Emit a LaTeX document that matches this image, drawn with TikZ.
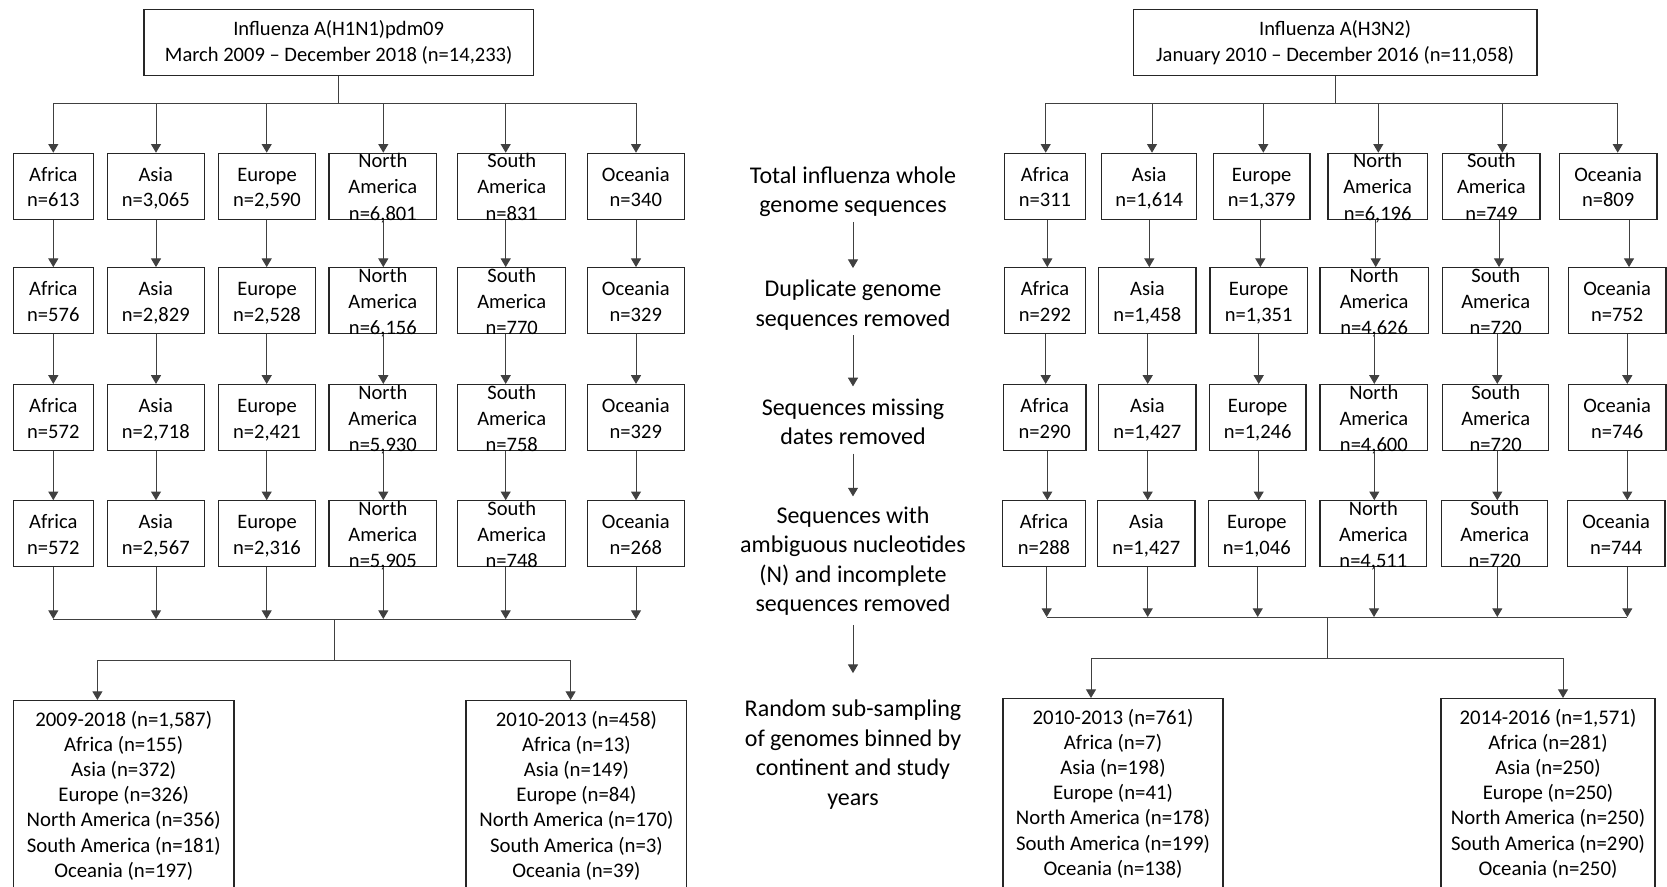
\documentclass[tikz,border=0pt]{standalone}
\usepackage{fontspec}
\setmainfont{Carlito}
\usetikzlibrary{arrows.meta}
\definecolor{boxc}{HTML}{262626}
\definecolor{linec}{HTML}{404040}
\newcommand{\boxtwo}[2]{\smash{\raisebox{3.98pt}{\begin{tabular}[t]{@{}c@{}}#1\\#2\end{tabular}}}}
\newcommand{\boxthree}[3]{\smash{\raisebox{13.73pt}{\begin{tabular}[t]{@{}c@{}}#1\\#2\\#3\end{tabular}}}}
\newcommand{\topstack}[2]{\smash{\raisebox{4.65pt}{\begin{tabular}[t]{@{}c@{}}#1\\#2\end{tabular}}}}
\newcommand{\stk}[1]{\begin{tabular}[t]{@{}c@{}}#1\end{tabular}}
\newcommand{\cb}[5]{\node[cbox, minimum width={(#3-#2)*0.75pt}] (#1) at ({(#2+#3)/2},#4) {#5};}
\tikzset{
  cbox/.style={draw=boxc, line width=0.9pt, minimum height=49.5pt, inner sep=0pt,
    font=\fontsize{15.4}{19.5}\selectfont},
  topbox/.style={draw=boxc, line width=0.9pt, minimum height=49.3pt, inner sep=0pt,
    font=\fontsize{15.6}{20}\selectfont},
  bigbox/.style={draw=boxc, line width=0.9pt, anchor=north, inner sep=0pt},
  btxt/.style={anchor=base, inner sep=0pt, font=\fontsize{15.6}{18.9}\selectfont},
  mid/.style={anchor=base, inner sep=0pt, font=\fontsize{18}{22.1}\selectfont},
  ln/.style={draw=linec, line width=0.75pt},
  arr/.style={draw=linec, line width=0.75pt, -{Triangle[width=7.5pt,length=6.5pt]}},
}
\begin{document}
\begin{tikzpicture}[x=0.75pt,y=-0.75pt]
\useasboundingbox (0,0) rectangle (1667,886);
\clip (0,0) rectangle (1667,886);

% ---------------- left tree: H1N1 ----------------
\cb{LT}{144}{533.3}{42.15}{\topstack{Influenza A(H1N1)pdm09}{March 2009 -- December 2018 (n=14,233)}}

\cb{LA1}{13.3}{93.3}{186.3}{\boxtwo{Africa}{n=613}}
\cb{LB1}{107.3}{204.3}{186.3}{\boxtwo{Asia}{n=3,065}}
\cb{LC1}{218.3}{315.7}{186.3}{\boxtwo{Europe}{n=2,590}}
\cb{LD1}{329}{436.7}{186.3}{\boxthree{North}{America}{n=6,801}}
\cb{LE1}{457.7}{565.7}{186.3}{\boxthree{South}{America}{n=831}}
\cb{LF1}{587.3}{684.3}{186.3}{\boxtwo{Oceania}{n=340}}

\cb{LA2}{13.3}{93.3}{300.7}{\boxtwo{Africa}{n=576}}
\cb{LB2}{107.3}{204.3}{300.7}{\boxtwo{Asia}{n=2,829}}
\cb{LC2}{218.3}{315.7}{300.7}{\boxtwo{Europe}{n=2,528}}
\cb{LD2}{329}{436.7}{300.7}{\boxthree{North}{America}{n=6,156}}
\cb{LE2}{457.7}{565.7}{300.7}{\boxthree{South}{America}{n=770}}
\cb{LF2}{587.3}{684.3}{300.7}{\boxtwo{Oceania}{n=329}}

\cb{LA3}{13.3}{93.3}{417.5}{\boxtwo{Africa}{n=572}}
\cb{LB3}{107.3}{204.3}{417.5}{\boxtwo{Asia}{n=2,718}}
\cb{LC3}{218.3}{315.7}{417.5}{\boxtwo{Europe}{n=2,421}}
\cb{LD3}{329}{436.7}{417.5}{\boxthree{North}{America}{n=5,930}}
\cb{LE3}{457.7}{565.7}{417.5}{\boxthree{South}{America}{n=758}}
\cb{LF3}{587.3}{684.3}{417.5}{\boxtwo{Oceania}{n=329}}

\cb{LA4}{13.3}{93.3}{533.8}{\boxtwo{Africa}{n=572}}
\cb{LB4}{107.3}{204.3}{533.8}{\boxtwo{Asia}{n=2,567}}
\cb{LC4}{218.3}{315.7}{533.8}{\boxtwo{Europe}{n=2,316}}
\cb{LD4}{329}{436.7}{533.8}{\boxthree{North}{America}{n=5,905}}
\cb{LE4}{457.7}{565.7}{533.8}{\boxthree{South}{America}{n=748}}
\cb{LF4}{587.3}{684.3}{533.8}{\boxtwo{Oceania}{n=268}}

\node[bigbox, minimum width={(234-13.4)*0.75pt}, minimum height=165pt] (LS1) at (123.7,700) {};
\node[bigbox, minimum width={(686.8-466)*0.75pt}, minimum height=165pt] (LS2) at (576.4,700) {};
\node[btxt] (LS1t) at ([yshift=-19.5pt]LS1.north) {\stk{2009-2018 (n=1,587)\\Africa (n=155)\\Asia (n=372)\\Europe (n=326)\\North America (n=356)\\South America (n=181)\\Oceania (n=197)}};
\node[btxt] (LS2t) at ([yshift=-19.5pt]LS2.north) {\stk{2010-2013 (n=458)\\Africa (n=13)\\Asia (n=149)\\Europe (n=84)\\North America (n=170)\\South America (n=3)\\Oceania (n=39)}};

\coordinate (LbusL) at (53.3,103.3);
\coordinate (LbusR) at (636,103.3);
\coordinate (LjoinL) at (53.3,619);
\coordinate (LjoinR) at (636,619);
\coordinate (LsplitL) at (97.4,660);
\coordinate (LsplitR) at (570.6,660);
\coordinate (LjoinM) at (334,619);

\draw[ln] (LT.south) -- (LT.south |- LbusL);
\draw[ln] (LbusL) -- (LbusR);
\foreach \c/\x in {A/53.3,B/156,C/266.7,D/383.3,E/505.7,F/636}{
  \draw[arr] (LbusL -| \x,0) -- (L\c1.north -| \x,0);
  \draw[arr] (L\c1.south -| \x,0) -- (L\c2.north -| \x,0);
  \draw[arr] (L\c2.south -| \x,0) -- (L\c3.north -| \x,0);
  \draw[arr] (L\c3.south -| \x,0) -- (L\c4.north -| \x,0);
  \draw[arr] (L\c4.south -| \x,0) -- (LjoinL -| \x,0);
}
\draw[ln] (LjoinL) -- (LjoinR);
\draw[ln] (LjoinM) -- (LjoinM |- LsplitL);
\draw[ln] (LsplitL) -- (LsplitR);
\draw[arr] (LsplitL) -- (LS1.north -| LsplitL);
\draw[arr] (LsplitR) -- (LS2.north -| LsplitR);

% ---------------- middle column ----------------
\node[mid] (M1) at (853,183.3) {\stk{Total influenza whole\\genome sequences}};
\node[mid] (M2) at (853,296.7) {\stk{Duplicate genome\\sequences removed}};
\node[mid] (M3) at (853,415) {\stk{Sequences missing\\dates removed}};
\node[mid] (M4) at (853,523.3) {\stk{Sequences with\\ambiguous nucleotides\\(N) and incomplete\\sequences removed}};
\node[mid] (M5) at (853,716.7) {\stk{Random sub-sampling\\of genomes binned by\\continent and study\\years}};
\draw[arr] (M1.south) -- ([yshift=5.8pt]M2.north);
\draw[arr] (M2.south) -- ([yshift=5.8pt]M3.north);
\draw[arr] (M3.south) -- ([yshift=4.5pt]M4.north);
\draw[arr] ([yshift=-3pt]M4.south) -- ([yshift=17pt]M5.north);

% ---------------- right tree: H3N2 ----------------
\cb{RT}{1133.2}{1537}{42.15}{\topstack{Influenza A(H3N2)}{January 2010 -- December 2016 (n=11,058)}}

\cb{RA1}{1004.7}{1085.3}{186.3}{\boxtwo{Africa}{n=311}}
\cb{RB1}{1101.7}{1196.7}{186.3}{\boxtwo{Asia}{n=1,614}}
\cb{RC1}{1213.3}{1310}{186.3}{\boxtwo{Europe}{n=1,379}}
\cb{RD1}{1328}{1427.3}{186.3}{\boxthree{North}{America}{n=6,196}}
\cb{RE1}{1442.7}{1540}{186.3}{\boxthree{South}{America}{n=749}}
\cb{RF1}{1559.3}{1657}{186.3}{\boxtwo{Oceania}{n=809}}

\cb{RA2}{1004.7}{1085.3}{300.7}{\boxtwo{Africa}{n=292}}
\cb{RB2}{1098.7}{1196}{300.7}{\boxtwo{Asia}{n=1,458}}
\cb{RC2}{1210}{1307.3}{300.7}{\boxtwo{Europe}{n=1,351}}
\cb{RD2}{1320}{1428.3}{300.7}{\boxthree{North}{America}{n=4,626}}
\cb{RE2}{1442.7}{1548.7}{300.7}{\boxthree{South}{America}{n=720}}
\cb{RF2}{1568.3}{1666}{300.7}{\boxtwo{Oceania}{n=752}}

\cb{RA3}{1003.3}{1086}{417.5}{\boxtwo{Africa}{n=290}}
\cb{RB3}{1098.7}{1196}{417.5}{\boxtwo{Asia}{n=1,427}}
\cb{RC3}{1209.3}{1306}{417.5}{\boxtwo{Europe}{n=1,246}}
\cb{RD3}{1320}{1427.7}{417.5}{\boxthree{North}{America}{n=4,600}}
\cb{RE3}{1442.7}{1548.7}{417.5}{\boxthree{South}{America}{n=720}}
\cb{RF3}{1568.3}{1666}{417.5}{\boxtwo{Oceania}{n=746}}

\cb{RA4}{1002.7}{1085.3}{533.8}{\boxtwo{Africa}{n=288}}
\cb{RB4}{1097.7}{1195}{533.8}{\boxtwo{Asia}{n=1,427}}
\cb{RC4}{1208.3}{1305.3}{533.8}{\boxtwo{Europe}{n=1,046}}
\cb{RD4}{1320}{1426.7}{533.8}{\boxthree{North}{America}{n=4,511}}
\cb{RE4}{1441.7}{1547.7}{533.8}{\boxthree{South}{America}{n=720}}
\cb{RF4}{1567.3}{1665}{533.8}{\boxtwo{Oceania}{n=744}}

\node[bigbox, minimum width={(1223-1003)*0.75pt}, minimum height=165pt] (RS1) at (1113,698) {};
\node[bigbox, minimum width={(1655-1441)*0.75pt}, minimum height=165pt] (RS2) at (1548,698) {};
\node[btxt] (RS1t) at ([yshift=-19.5pt]RS1.north) {\stk{2010-2013 (n=761)\\Africa (n=7)\\Asia (n=198)\\Europe (n=41)\\North America (n=178)\\South America (n=199)\\Oceania (n=138)}};
\node[btxt] (RS2t) at ([yshift=-19.5pt]RS2.north) {\stk{2014-2016 (n=1,571)\\Africa (n=281)\\Asia (n=250)\\Europe (n=250)\\North America (n=250)\\South America (n=290)\\Oceania (n=250)}};

\coordinate (RbusL) at (1045.7,103);
\coordinate (RbusR) at (1617.7,103);
\coordinate (RjoinL) at (1046.7,617);
\coordinate (RjoinR) at (1627.3,617);
\coordinate (RjoinM) at (1327,617);
\coordinate (RsplitL) at (1091,658);
\coordinate (RsplitR) at (1563,658);

\draw[ln] (RT.south) -- (RT.south |- RbusL);
\draw[ln] (RbusL) -- (RbusR);
\foreach \c/\x in {A/1045.7,B/1152,C/1263.3,D/1378.3,E/1502.3,F/1617.7}{
  \draw[arr] (RbusL -| \x,0) -- (R\c1.north -| \x,0);
}
\foreach \c/\x in {A/1047.3,B/1149.3,C/1260.3,D/1375.7,E/1499,F/1629}{
  \draw[arr] (R\c1.south -| \x,0) -- (R\c2.north -| \x,0);
}
\foreach \c/\x in {A/1045.7,B/1147.7,C/1258.7,D/1374.3,E/1497.3,F/1627.3}{
  \draw[arr] (R\c2.south -| \x,0) -- (R\c3.north -| \x,0);
}
\foreach \c/\x in {A/1047.3,B/1147.7,C/1258.7,D/1374.3,E/1497.3,F/1627.3}{
  \draw[arr] (R\c3.south -| \x,0) -- (R\c4.north -| \x,0);
}
\foreach \c/\x in {A/1046.7,B/1147.7,C/1257.7,D/1374,E/1497.3,F/1627.3}{
  \draw[arr] (R\c4.south -| \x,0) -- (RjoinL -| \x,0);
}
\draw[ln] (RjoinL) -- (RjoinR);
\draw[ln] (RjoinM) -- (RjoinM |- RsplitL);
\draw[ln] (RsplitL) -- (RsplitR);
\draw[arr] (RsplitL) -- (RS1.north -| RsplitL);
\draw[arr] (RsplitR) -- (RS2.north -| RsplitR);
\end{tikzpicture}
\end{document}
